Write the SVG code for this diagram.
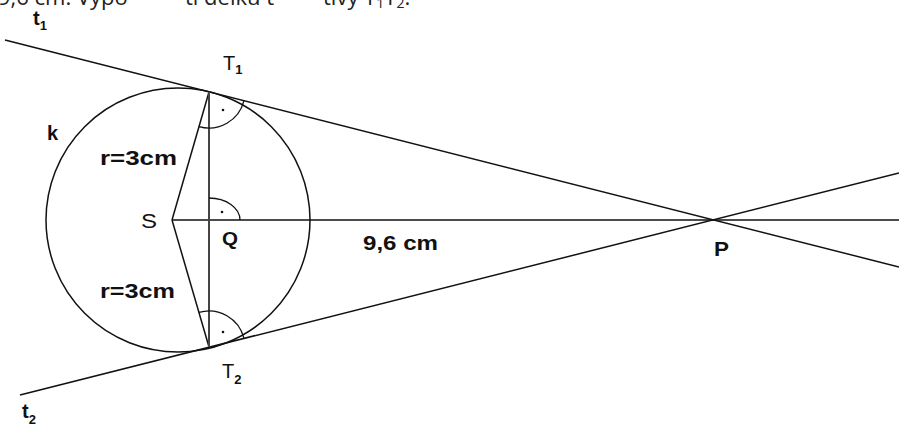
<svg xmlns="http://www.w3.org/2000/svg" width="899" height="426" viewBox="0 0 899 426">
  <style>
    .ln { fill: none; stroke: #111; stroke-width: 1.5; }
    .ch { fill: none; stroke: #444; stroke-width: 2; }
    .ra { fill: none; stroke: #111; stroke-width: 1.3; }
    .lb { font-family: "Liberation Sans", Arial, sans-serif; fill: #111; }
    .b { font-weight: bold; }
    .top { font-family: "Open Sans", "Liberation Sans", sans-serif; font-size: 22px; fill: #222; }
  </style>
  <rect width="899" height="426" fill="#fff"/>
  <text class="top" y="5"><tspan x="-2">9,6 cm. Vypo</tspan><tspan x="185">ti délku t</tspan><tspan x="323">tivy T</tspan><tspan font-size="14" dy="3">1</tspan><tspan dy="-3">T</tspan><tspan font-size="14" dy="3">2</tspan><tspan dy="-3">.</tspan></text>

  <g id="circle-k">
    <circle cx="178" cy="220" r="132" class="ln"/>
    <text class="lb b" x="47" y="140" font-size="20">k</text>
  </g>

  <g id="connectors">
    <line id="t1" class="ln" x1="5" y1="40" x2="899" y2="267"/>
    <line id="t2" class="ln" x1="20" y1="395" x2="899" y2="173"/>
    <line id="SP" class="ln" x1="172" y1="220" x2="899" y2="220"/>
    <line id="ST1" class="ln" x1="172" y1="220" x2="209" y2="92"/>
    <line id="ST2" class="ln" x1="172" y1="220" x2="209" y2="347"/>
    <line id="T1T2" class="ch" x1="209" y1="92" x2="209" y2="347"/>
  </g>

  <g id="angle-T1">
    <path class="ra" d="M199 126.6 A36 36 0 0 0 243.9 100.9"/>
    <circle cx="223" cy="110" r="1.3" fill="#111"/>
  </g>
  <g id="angle-Q">
    <path class="ra" d="M209 198 A31 22 0 0 1 240 220"/>
    <circle cx="222" cy="212" r="1.3" fill="#111"/>
  </g>
  <g id="angle-T2">
    <path class="ra" d="M198.9 312.4 A36 36 0 0 1 243.9 338.2"/>
    <circle cx="223" cy="332" r="1.3" fill="#111"/>
  </g>

  <g id="label-t1">
    <text class="lb b" x="33" y="25" font-size="20">t<tspan font-size="13" dy="5">1</tspan></text>
  </g>
  <g id="label-t2">
    <text class="lb b" x="22" y="418" font-size="20">t<tspan font-size="13" dy="6">2</tspan></text>
  </g>
  <g id="point-T1">
    <text class="lb" x="223" y="70" font-size="20">T<tspan class="b" font-size="13" dy="4">1</tspan></text>
  </g>
  <g id="point-T2">
    <text class="lb" x="222" y="378" font-size="20">T<tspan class="b" font-size="13" dy="6">2</tspan></text>
  </g>
  <g id="point-S">
    <text class="lb" x="141" y="228" font-size="21" textLength="16" lengthAdjust="spacingAndGlyphs">S</text>
  </g>
  <g id="point-Q">
    <text class="lb b" x="222" y="245" font-size="19" textLength="16" lengthAdjust="spacingAndGlyphs">Q</text>
  </g>
  <g id="point-P">
    <text class="lb b" x="714" y="256" font-size="20" textLength="15" lengthAdjust="spacingAndGlyphs">P</text>
  </g>
  <g id="label-r1">
    <text class="lb b" x="100" y="165" font-size="20" textLength="77" lengthAdjust="spacingAndGlyphs">r=3cm</text>
  </g>
  <g id="label-r2">
    <text class="lb b" x="100" y="298" font-size="20" textLength="75" lengthAdjust="spacingAndGlyphs">r=3cm</text>
  </g>
  <g id="label-SP">
    <text class="lb b" x="363" y="250" font-size="20" textLength="75" lengthAdjust="spacingAndGlyphs">9,6 cm</text>
  </g>
</svg>
